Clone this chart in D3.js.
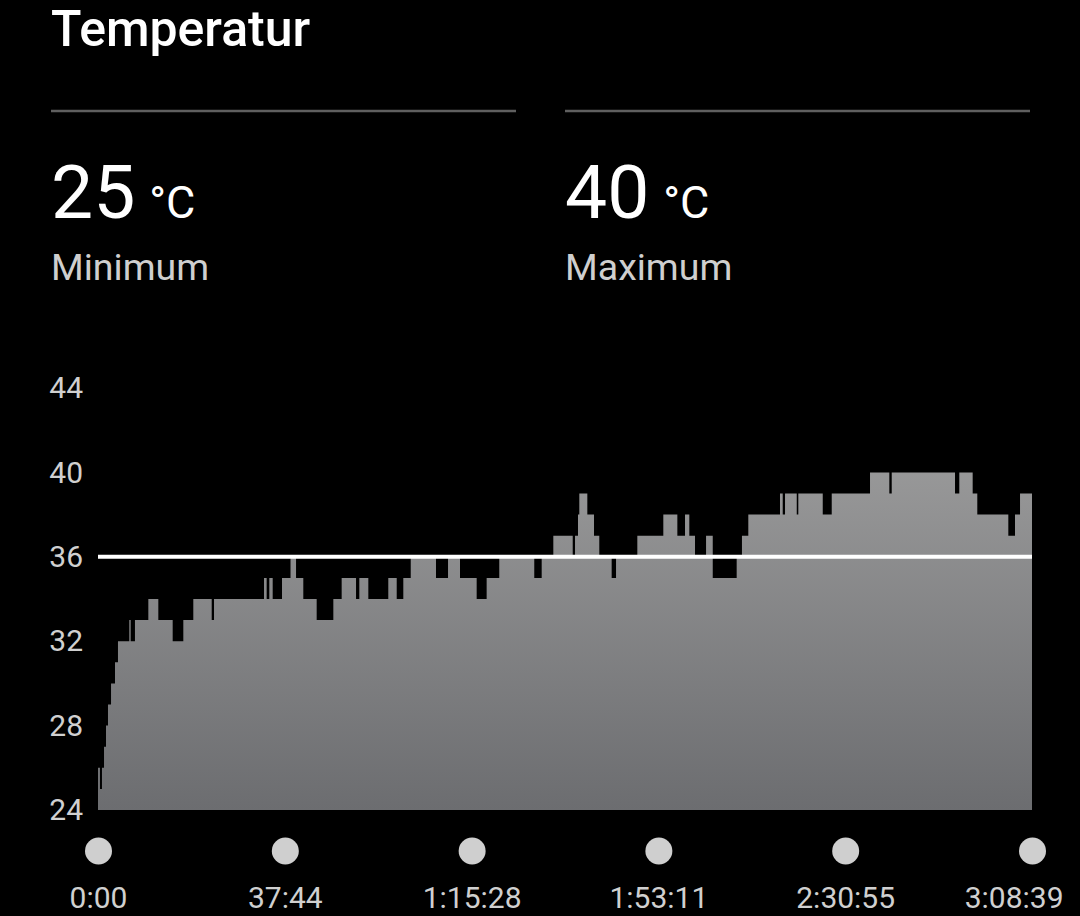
<!DOCTYPE html>
<html><head><meta charset="utf-8">
<script src="https://cdn.jsdelivr.net/npm/d3@7/dist/d3.min.js"></script>
<style>
html,body{margin:0;padding:0;background:#000;}
svg{display:block;font-family:Roboto,"Noto Sans",sans-serif;}
</style></head>
<body><svg id="c" width="1080" height="916"></svg>
<script>
// change points: time (seconds) and temperature (°C) from that time on
const times = [0,24,48,73,97,121,158,206,242,379,396,448,610,731,905,1034,1155,1378,1406,2012,2044,2076,2117,2230,2333,2400,2488,2650,2852,2953,3127,3167,3276,3518,3620,3700,3790,4096,4242,4387,4589,4710,4863,5287,5377,5518,5753,5781,5817,5833,5930,6011,6075,6225,6278,6536,6851,7021,7114,7166,7235,7369,7450,7740,7804,7881,8265,8298,8326,8468,8487,8783,8892,9356,9590,9619,10386,10438,10600,10656,11032,11113,11174,11319];
const temps = [26,25,26,27,28,29,30,31,32,33,32,33,34,33,32,33,34,33,34,35,34,35,34,35,36,35,34,33,34,35,34,35,34,35,34,35,36,35,36,35,34,35,36,35,36,37,36,37,38,39,38,37,36,35,36,37,38,37,38,37,36,37,35,36,37,38,39,38,39,38,39,38,39,40,39,40,39,40,39,38,37,38,39,39];
const yTicks = [24,28,32,36,40,44];
const xTickSeconds = [0,2264,4528,6791,9055,11319];
const xTickLabels = ["0:00","37:44","1:15:28","1:53:11","2:30:55","3:08:39"];
const refValue = 36;
const stats = [{value:"25", unit:"°C", label:"Minimum"},{value:"40", unit:"°C", label:"Maximum"}];
const title = "Temperatur";

const data = times.map((t,i)=>({t, v: temps[i]}));
const svg = d3.select("#c");
const x = d3.scaleLinear().domain([0,11319]).range([98,1032]);
const y = d3.scaleLinear().domain([24,44]).range([810,388]);

// title
svg.append("text").attr("x",51).attr("y",46).attr("fill","#fff")
  .attr("font-size",50).attr("font-weight",500).text(title);

// stat panels
const px = [51,565];
stats.forEach((s,i)=>{
  const g = svg.append("g");
  g.append("line").attr("x1",px[i]).attr("x2",px[i]+465).attr("y1",111).attr("y2",111)
    .attr("stroke","#5f5f5f").attr("stroke-width",2.5);
  const vt = g.append("text").attr("x",px[i]).attr("y",218).attr("fill","#fff");
  vt.append("tspan").attr("font-size",75).text(s.value);
  vt.append("tspan").attr("font-size",45).attr("dx",14).text(s.unit);
  g.append("text").attr("x",px[i]).attr("y",280).attr("fill","#cfcfcf")
    .attr("font-size",37.5).text(s.label);
});

// gradient
const defs = svg.append("defs");
const grad = defs.append("linearGradient").attr("id","g1").attr("gradientUnits","userSpaceOnUse")
  .attr("x1",0).attr("x2",0).attr("y1",y(44)).attr("y2",y(24));
grad.append("stop").attr("offset","0%").attr("stop-color","#a2a2a2");
grad.append("stop").attr("offset","100%").attr("stop-color","#6c6d70");

const area = d3.area().curve(d3.curveStepAfter)
  .x(d=>x(d.t)).y0(y(24)).y1(d=>y(d.v));
svg.append("path").datum(data).attr("d",area).attr("fill","url(#g1)");

// reference line
svg.append("line").attr("x1",x(0)).attr("x2",x(11319)).attr("y1",y(refValue)).attr("y2",y(refValue))
  .attr("stroke","#fff").attr("stroke-width",4);

// y axis
const ya = svg.append("g").attr("transform","translate(83,0)")
  .call(d3.axisLeft(y).tickValues(yTicks).tickSize(0).tickPadding(0));
ya.select(".domain").remove();
ya.selectAll("text").attr("fill","#d0d0d0").attr("font-size",30).attr("font-family","Roboto");

// x axis
const xa = svg.append("g").attr("transform","translate(0,851)")
  .call(d3.axisBottom(x).tickValues(xTickSeconds).tickSize(0).tickPadding(0)
    .tickFormat((d,i)=>xTickLabels[i]));
xa.select(".domain").remove();
xa.selectAll(".tick").append("circle").attr("r",13.5).attr("fill","#cfcfcf");
xa.selectAll("text").attr("fill","#d0d0d0").attr("font-size",30).attr("font-family","Roboto")
  .attr("dy",null).attr("y",57);
// keep the last label inside the view, as in the reference
xa.selectAll(".tick").filter((d,i,n)=>i===n.length-1).select("text")
  .attr("text-anchor","end").attr("x",31);
</script></body></html>
